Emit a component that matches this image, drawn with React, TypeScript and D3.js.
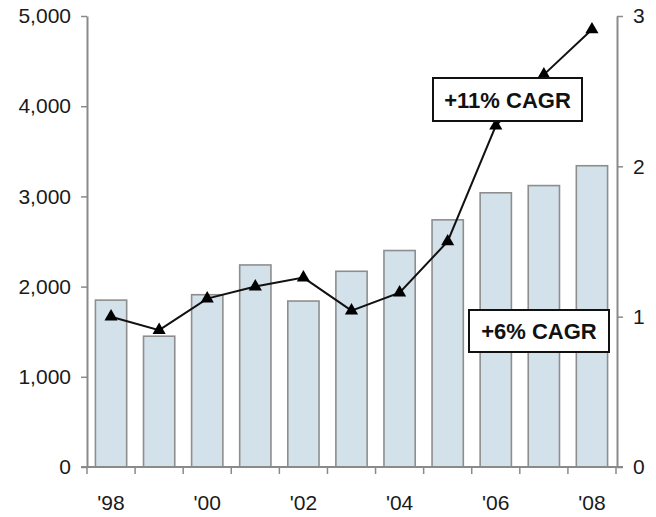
import React, { useRef, useEffect } from 'react';
import * as d3 from 'd3';

const years = ['98', '99', '00', '01', '02', '03', '04', '05', '06', '07', '08'];
const barValues = [1850, 1450, 1910, 2240, 1840, 2170, 2400, 2740, 3040, 3120, 3340];
const lineValues = [1.0, 0.91, 1.12, 1.2, 1.26, 1.04, 1.16, 1.5, 2.27, 2.61, 2.91];
const leftTicks = [0, 1000, 2000, 3000, 4000, 5000];
const rightTicks = [0, 1, 2, 3];
const xLabels = ['98', '00', '02', '04', '06', '08'];

const WIDTH = 656;
const HEIGHT = 517;

const App: React.FC = () => {
  const svgRef = useRef<SVGSVGElement | null>(null);

  useEffect(() => {
    if (!svgRef.current) return;
    const svg = d3.select(svgRef.current);
    svg.selectAll('*').remove();

    const left = 87, right = 616, top = 16, bottom = 467;
    const axisColor = '#8a8a8a';
    const font = '"Liberation Sans", Arial, sans-serif';

    const xScale = d3.scaleBand()
      .domain(years)
      .range([left, right])
      .paddingInner(0.35)
      .paddingOuter(0.175);

    const yLeft = d3.scaleLinear().domain([0, 5000]).range([bottom, top]);
    const yRight = d3.scaleLinear().domain([0, 3]).range([bottom, top]);

    const step = xScale.step();
    const center = (y: string) => (xScale(y) || 0) + xScale.bandwidth() / 2;

    // bars
    svg.append('g')
      .selectAll('rect')
      .data(years)
      .enter()
      .append('rect')
      .attr('x', (d) => xScale(d) || 0)
      .attr('y', (d, i) => yLeft(barValues[i]))
      .attr('width', xScale.bandwidth())
      .attr('height', (d, i) => bottom - yLeft(barValues[i]))
      .attr('fill', '#d3e1ea')
      .attr('stroke', '#8e8e8e')
      .attr('stroke-width', 1.6);

    // left axis
    const gl = svg.append('g')
      .attr('transform', `translate(${left}, 0)`)
      .call(d3.axisLeft(yLeft).tickValues(leftTicks).tickFormat(d3.format(',')).tickSize(6).tickSizeOuter(0).tickPadding(10));
    gl.select('.domain').attr('stroke', axisColor).attr('stroke-width', 2);
    gl.selectAll('.tick line').attr('stroke', axisColor).attr('stroke-width', 1.5);
    gl.selectAll('text').style('font-family', font).style('font-size', '21px').attr('fill', '#1a1a1a');

    // right axis
    const gr = svg.append('g')
      .attr('transform', `translate(${right + 1}, 0)`)
      .call(d3.axisRight(yRight).tickValues(rightTicks).tickFormat(d3.format('d')).tickSize(6).tickSizeOuter(0).tickPadding(10));
    gr.select('.domain').attr('stroke', axisColor).attr('stroke-width', 2);
    gr.selectAll('.tick line').attr('stroke', axisColor).attr('stroke-width', 1.5);
    gr.selectAll('text').style('font-family', font).style('font-size', '21px').attr('fill', '#1a1a1a');

    // bottom axis
    const gb = svg.append('g').attr('transform', `translate(0, ${bottom})`);
    gb.append('line')
      .attr('x1', left - 6).attr('x2', right + 7)
      .attr('stroke', axisColor).attr('stroke-width', 2);
    const boundaries = years.map(y => (xScale(y) || 0) - step * 0.175).concat([right]);
    gb.selectAll('line.tk')
      .data(boundaries)
      .enter()
      .append('line')
      .attr('class', 'tk')
      .attr('x1', d => d).attr('x2', d => d)
      .attr('y1', 0).attr('y2', 7)
      .attr('stroke', axisColor).attr('stroke-width', 1.5);
    gb.selectAll('text')
      .data(xLabels)
      .enter()
      .append('text')
      .attr('x', d => center(d))
      .attr('y', 43)
      .attr('text-anchor', 'middle')
      .style('font-family', font)
      .style('font-size', '21px')
      .attr('fill', '#1a1a1a')
      .text(d => `'${d}`);

    // line
    const line = d3.line<number>()
      .x((d, i) => center(years[i]))
      .y(d => yRight(d));
    svg.append('path')
      .datum(lineValues)
      .attr('d', line)
      .attr('fill', 'none')
      .attr('stroke', '#111')
      .attr('stroke-width', 2);

    svg.append('g')
      .selectAll('path')
      .data(lineValues)
      .enter()
      .append('path')
      .attr('d', d3.symbol().type(d3.symbolTriangle).size(75)())
      .attr('transform', (d, i) => `translate(${center(years[i])}, ${yRight(d)})`)
      .attr('fill', '#000');

    // annotation boxes
    const boxes = [
      { text: '+11% CAGR', x: 433, y: 78, w: 149, h: 43 },
      { text: '+6% CAGR', x: 469, y: 310, w: 140, h: 42 },
    ];
    const gbox = svg.append('g');
    boxes.forEach(b => {
      gbox.append('rect')
        .attr('x', b.x).attr('y', b.y)
        .attr('width', b.w).attr('height', b.h)
        .attr('fill', '#fff')
        .attr('stroke', '#111')
        .attr('stroke-width', 2);
      gbox.append('text')
        .attr('x', b.x + b.w / 2)
        .attr('y', b.y + b.h / 2 + 8)
        .attr('text-anchor', 'middle')
        .style('font-family', font)
        .style('font-size', '22px')
        .style('font-weight', 'bold')
        .attr('fill', '#111')
        .text(b.text);
    });
  }, []);

  return (
    <svg
      ref={svgRef}
      width={WIDTH}
      height={HEIGHT}
      style={{ position: 'absolute', left: 0, top: 0, background: '#fff' }}
    />
  );
};

export default App;
